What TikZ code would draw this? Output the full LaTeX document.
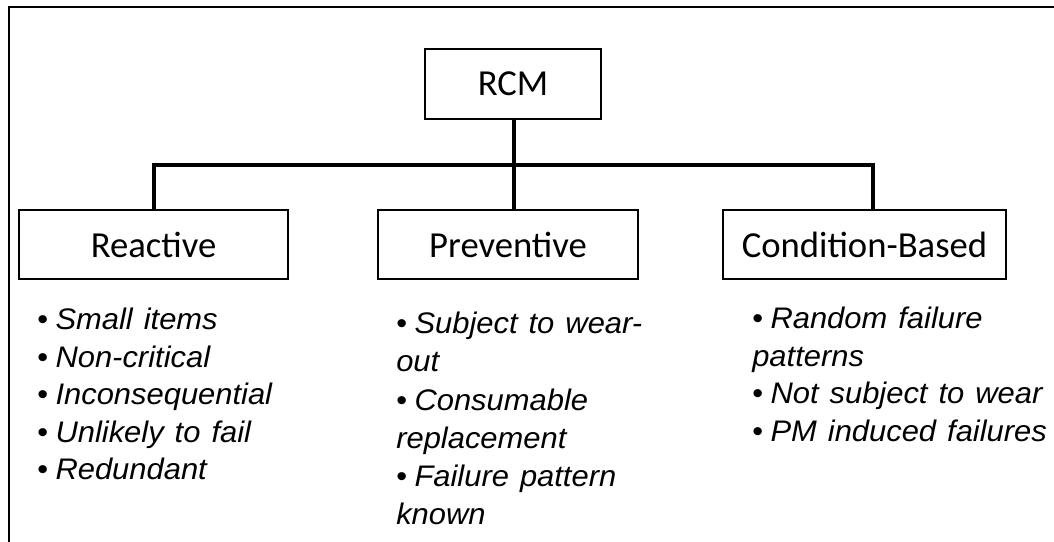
\documentclass[tikz,border=0pt]{standalone}
\usepackage{fontspec}
\setmainfont{Liberation Sans}
\newfontfamily\listfont[FakeStretch=1.04]{Liberation Sans}
\newfontfamily\boxfont{Carlito}
\newcommand\listsetup{\listfont\fontsize{22.3}{28.1}\selectfont\spaceskip=0.37em plus 0.1em\relax}
\newcommand\plistsetup{\listfont\fontsize{22.3}{28.6}\selectfont\spaceskip=0.37em plus 0.1em\relax}
\newcommand\bul{\textbullet\hspace{0.25em}}
\begin{document}
\begin{tikzpicture}[x=0.75pt,y=-0.75pt,
  box/.style={draw=black, line width=1.1pt, inner sep=0pt, minimum height=69*0.75pt,
    font=\boxfont\fontsize{27.5}{32}\selectfont},
  conn/.style={draw=black, line width=2.3pt},
  frame/.style={draw=black, line width=2pt},
  blist/.style={anchor=north west, inner sep=0pt, align=left, font=\listsetup}]
\clip (0,0) rectangle (1054,542);
\useasboundingbox (0,0) rectangle (1054,542);
\draw[frame] (9,7) rectangle (1080,580);

\node[box, minimum width=176*0.75pt, minimum height=70*0.75pt] (rcm) at (513,84) {RCM};
\node[box, minimum width=269*0.75pt] (react) at (153.5,244.5) {Reactive};
\node[box, minimum width=260*0.75pt] (prev) at (508,244.5) {Preventive};
\node[box, minimum width=283*0.75pt] (cb) at (864.5,244.5) {Condition-Based};

\coordinate (rtap) at (154,165);
\coordinate (ptap) at (514,165);
\coordinate (ctap) at (873,165);
\draw[conn] (rcm.south -| ptap) -- (ptap |- prev.north);
\draw[conn] (rtap |- react.north) -- (rtap) -- (ctap) -- (ctap |- cb.north);

\node[blist] (rlist) at (37,308) {%
\bul\textit{Small items}\\
\bul\textit{Non-critical}\\
\bul\textit{Inconsequential}\\
\bul\textit{Unlikely to fail}\\
\bul\textit{Redundant}};
\node[blist, font=\plistsetup] (plist) at (396,312) {%
\bul\textit{Subject to wear-}\\
\textit{out}\\
\bul\textit{Consumable}\\
\textit{replacement}\\
\bul\textit{Failure pattern}\\
\textit{known}};
\node[blist] (clist) at (752,307) {%
\bul\textit{Random failure}\\
\textit{patterns}\\
\bul\textit{Not subject to wear}\\
\bul\textit{PM induced failures}};
\end{tikzpicture}
\end{document}
